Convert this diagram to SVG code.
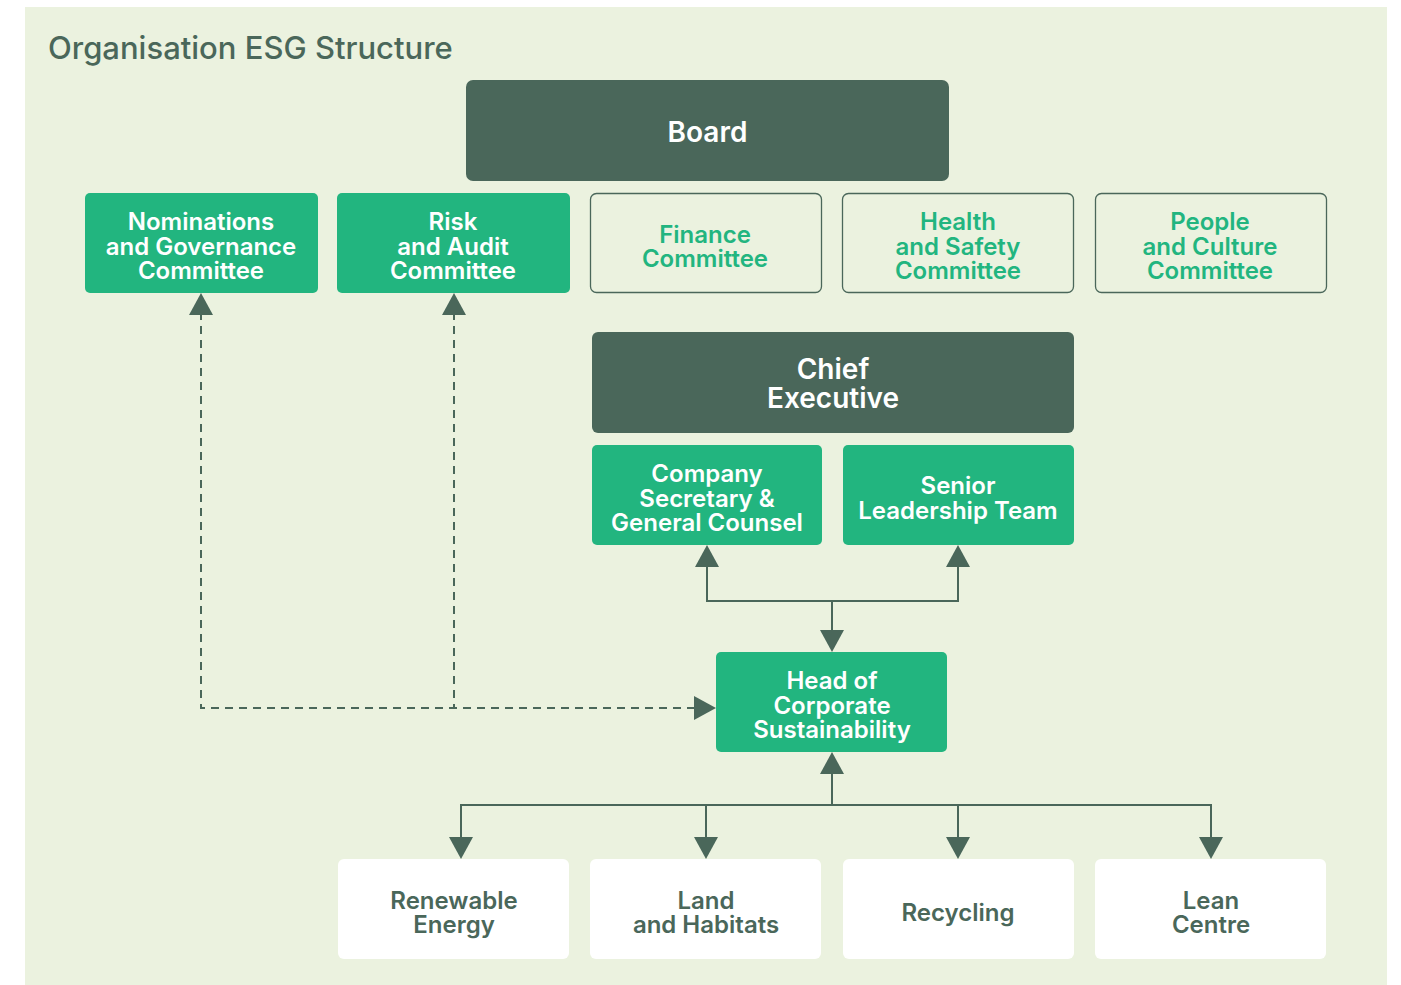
<svg xmlns="http://www.w3.org/2000/svg" width="1401" height="985" viewBox="0 0 1401 985">
  <defs>
    <style>
      .bg { fill: #ffffff; }
      .panel { fill: #ebf2df; }
      .dark { fill: #4a675a; }
      .green { fill: #22b57f; }
      .outline { fill: #ebf2df; stroke: #4a675a; stroke-width: 1.3; }
      .white { fill: #ffffff; }
      .t { font-family: "Inter", "Liberation Sans", sans-serif; font-weight: 600; text-anchor: middle; font-size: 24px; }
      .tw { fill: #ffffff; }
      .tg { fill: #22b57f; }
      .td { fill: #4a675a; }
      .big { font-size: 28px; }
      .title { font-family: "Inter", "Liberation Sans", sans-serif; font-weight: 500; font-size: 31px; fill: #4a675a; }
      .line { fill: none; stroke: #4a675a; stroke-width: 2; }
      .dash { fill: none; stroke: #4a675a; stroke-width: 2; stroke-dasharray: 8 6; }
      .head { fill: #4a675a; }
    </style>
  </defs>

  <rect class="bg" x="0" y="0" width="1401" height="985"/>
  <rect class="panel" x="25" y="7" width="1362" height="978"/>
  <text class="title" x="48" y="59">Organisation ESG Structure</text>

  <!-- connectors -->
  <g id="connectors">
    <!-- dashed links to board committees -->
    <path class="dash" d="M201 312 V708 H696"/>
    <path class="dash" d="M454 312 V708"/>
    <polygon class="head" points="201,293 189,315 213,315"/>
    <polygon class="head" points="454,293 442,315 466,315"/>
    <polygon class="head" points="716,708 694,696 694,720"/>

    <!-- head of sustainability up to executive reports -->
    <path class="line" d="M707 565 V601 H958 V565"/>
    <polygon class="head" points="707,545 695,567 719,567"/>
    <polygon class="head" points="958,545 946,567 970,567"/>
    <path class="line" d="M832 601 V632"/>
    <polygon class="head" points="832,652 820,630 844,630"/>

    <!-- head of sustainability down to programmes -->
    <path class="line" d="M832 772 V805"/>
    <polygon class="head" points="832,752 820,774 844,774"/>
    <path class="line" d="M461 839 V805 H1211 V839"/>
    <path class="line" d="M706 805 V839"/>
    <path class="line" d="M958 805 V839"/>
    <polygon class="head" points="461,859 449,837 473,837"/>
    <polygon class="head" points="706,859 694,837 718,837"/>
    <polygon class="head" points="958,859 946,837 970,837"/>
    <polygon class="head" points="1211,859 1199,837 1223,837"/>
  </g>

  <g id="board">
    <rect class="dark" x="466" y="80" width="483" height="101" rx="7"/>
    <text class="t big tw" x="707.5" y="142">Board</text>
  </g>

  <g id="nominations">
    <rect class="green" x="85" y="193" width="233" height="100" rx="5"/>
    <text class="t tw" x="201" y="230">Nominations</text>
    <text class="t tw" x="201" y="255">and Governance</text>
    <text class="t tw" x="201" y="279">Committee</text>
  </g>

  <g id="risk-audit">
    <rect class="green" x="337" y="193" width="233" height="100" rx="5"/>
    <text class="t tw" x="453" y="230">Risk</text>
    <text class="t tw" x="453" y="255">and Audit</text>
    <text class="t tw" x="453" y="279">Committee</text>
  </g>

  <g id="finance">
    <rect class="outline" x="590.5" y="193.5" width="231" height="99" rx="6"/>
    <text class="t tg" x="705" y="243">Finance</text>
    <text class="t tg" x="705" y="267">Committee</text>
  </g>

  <g id="health-safety">
    <rect class="outline" x="842.5" y="193.5" width="231" height="99" rx="6"/>
    <text class="t tg" x="958" y="230">Health</text>
    <text class="t tg" x="958" y="255">and Safety</text>
    <text class="t tg" x="958" y="279">Committee</text>
  </g>

  <g id="people-culture">
    <rect class="outline" x="1095.5" y="193.5" width="231" height="99" rx="6"/>
    <text class="t tg" x="1210" y="230">People</text>
    <text class="t tg" x="1210" y="255">and Culture</text>
    <text class="t tg" x="1210" y="279">Committee</text>
  </g>

  <g id="chief-executive">
    <rect class="dark" x="592" y="332" width="482" height="101" rx="6"/>
    <text class="t big tw" x="833" y="379">Chief</text>
    <text class="t big tw" x="833" y="408">Executive</text>
  </g>

  <g id="company-secretary">
    <rect class="green" x="592" y="445" width="230" height="100" rx="5"/>
    <text class="t tw" x="707" y="482">Company</text>
    <text class="t tw" x="707" y="507">Secretary &amp;</text>
    <text class="t tw" x="707" y="531">General Counsel</text>
  </g>

  <g id="senior-leadership">
    <rect class="green" x="843" y="445" width="231" height="100" rx="5"/>
    <text class="t tw" x="958" y="494">Senior</text>
    <text class="t tw" x="958" y="519">Leadership Team</text>
  </g>

  <g id="head-sustainability">
    <rect class="green" x="716" y="652" width="231" height="100" rx="5"/>
    <text class="t tw" x="832" y="689">Head of</text>
    <text class="t tw" x="832" y="714">Corporate</text>
    <text class="t tw" x="832" y="738">Sustainability</text>
  </g>

  <g id="renewable-energy">
    <rect class="white" x="338" y="859" width="231" height="100" rx="6"/>
    <text class="t td" x="454" y="909">Renewable</text>
    <text class="t td" x="454" y="933">Energy</text>
  </g>

  <g id="land-habitats">
    <rect class="white" x="590" y="859" width="231" height="100" rx="6"/>
    <text class="t td" x="706" y="909">Land</text>
    <text class="t td" x="706" y="933">and Habitats</text>
  </g>

  <g id="recycling">
    <rect class="white" x="843" y="859" width="231" height="100" rx="6"/>
    <text class="t td" x="958" y="921">Recycling</text>
  </g>

  <g id="lean-centre">
    <rect class="white" x="1095" y="859" width="231" height="100" rx="6"/>
    <text class="t td" x="1211" y="909">Lean</text>
    <text class="t td" x="1211" y="933">Centre</text>
  </g>
</svg>
